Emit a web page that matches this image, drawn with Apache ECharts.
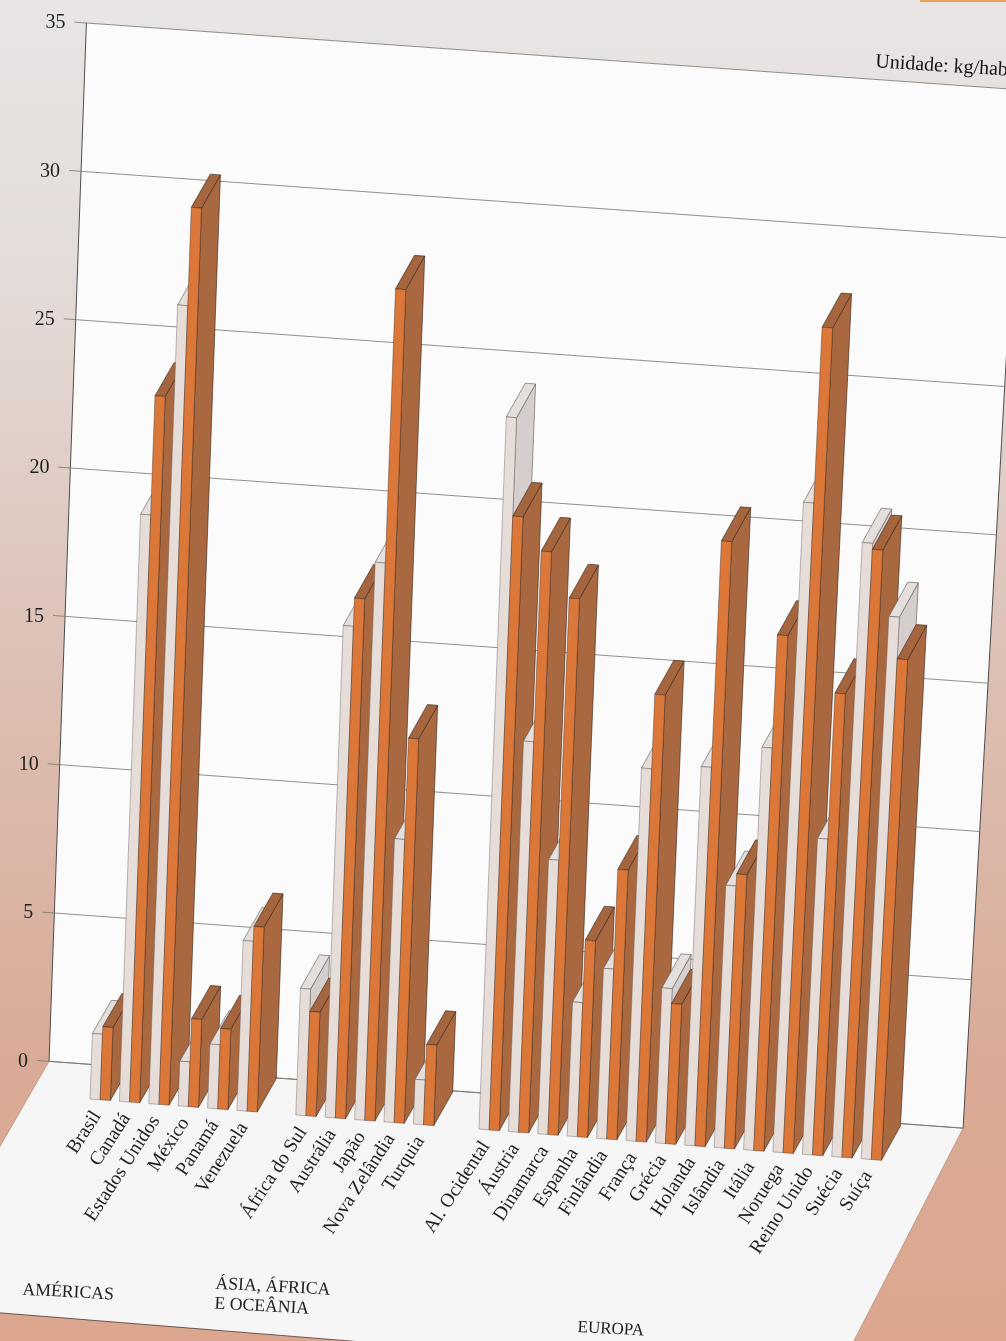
<!DOCTYPE html>
<html>
<head>
<meta charset="utf-8">
<style>html,body{margin:0;padding:0;background:#e5e0dd}#c{width:1006px;height:1341px}</style>
<script src="https://cdn.jsdelivr.net/npm/echarts@6/dist/echarts.min.js"></script>
</head>
<body>
<div id="c"></div>
<script>
const americas = ['Brasil','Canadá','Estados Unidos','México','Panamá','Venezuela'];
const asiaAfricaOceania = ['África do Sul','Austrália','Japão','Nova Zelândia','Turquia'];
const europa = ['Al. Ocidental','Áustria','Dinamarca','Espanha','Finlândia','França','Grécia','Holanda','Islândia','Itália','Noruega','Reino Unido','Suécia','Suíça'];
const lightValues = [2.2,19.7,26.8,1.5,2.15,5.7, 4.25,16.5,18.7,9.5,1.5, 23.9,13.1,9.2,4.5,5.7,12.5,5.2,12.7,8.8,13.5,21.8,10.6,20.6,18.2];
const orangeValues = [2.45,23.7,30.1,2.95,2.7,6.2, 3.5,17.45,27.9,12.9,2.7, 20.6,19.5,18,6.6,9.05,15,4.7,20.3,9.2,17.3,27.7,15.5,20.4,16.8];
const yTicks = [0,5,10,15,20,25,30,35];
const groupTitles = ['AMÉRICAS','ÁSIA, ÁFRICA\nE OCEÂNIA','EUROPA'];
const unitLabel = 'Unidade: kg/hab';

const categories = americas.concat(asiaAfricaOceania, europa);
const FONT = '"Liberation Serif", serif';
const slotOf = i => i < americas.length ? i
  : i < americas.length + asiaAfricaOceania.length ? i + 1 : i + 2.23;
const WALL_L = -2.04, WALL_R = 29.05, BAR = 0.345;
const WALL_SCALE = 0.9955;

function project(api, slot, value, depth, wall) {
  const c = api.coord([slot, value]), b = api.coord([slot, 0]);
  const h = b[1] - c[1], t = (slot + 2) / 31;
  return [
    b[0] + (0.036 + 0.020 * t * t * t) * h + depth * 19,
    c[1] + 0.0775 * (b[0] - 90) - depth * (33 + (wall ? 4 : 1.5) * t)
  ];
}
function poly(points, fill, stroke, z2, lw) {
  return { type: 'polygon', silent: true, z2, shape: { points },
    style: { fill, stroke: stroke || 'none', lineWidth: lw == null ? 0.6 : lw } };
}
function line(a, b, stroke, z2, lw) {
  return { type: 'line', silent: true, z2, shape: { x1: a[0], y1: a[1], x2: b[0], y2: b[1] },
    style: { stroke, lineWidth: lw || 0.8 } };
}
function barItem(colors, offset, order) {
  return function (params, api) {
    const s = api.value(0) + offset, v = api.value(1), i = params.dataIndex;
    const z = 20 + i * 4 + order;
    const p = (sl, val, d) => project(api, sl, val, d);
    const s2 = s + BAR;
    const fl0 = p(s, 0, 0), fr0 = p(s2, 0, 0), fl1 = p(s, v, 0), fr1 = p(s2, v, 0);
    const br0 = p(s2, 0, 1), br1 = p(s2, v, 1), bl1 = p(s, v, 1);
    return { type: 'group', children: [
      poly([fr0, br0, br1, fr1], colors.side, colors.edge, z),
      poly([fl1, fr1, br1, bl1], colors.top, colors.edge, z + 1),
      poly([fl0, fr0, fr1, fl1], colors.front, colors.edge, z + 2, 0.4)
    ] };
  };
}
const lightColors = { front: '#e6dcd8', side: '#d5cecc', top: '#e4dfdc', edge: '#5a5552' };
const orangeColors = { front: '#dc773a', side: '#a9683f', top: '#a5653f', edge: '#33231a' };

const option = {
  animation: false,
  backgroundColor: { type: 'linear', x: 0, y: 0, x2: 0, y2: 1, colorStops: [
    { offset: 0, color: '#e8e5e4' }, { offset: 0.2, color: '#e4dcd9' },
    { offset: 0.5, color: '#dcc0b4' }, { offset: 0.8, color: '#d9aa96' }, { offset: 1, color: '#dca78e' }
  ] },
  grid: { left: 90, top: 56, width: 852.6, height: 1043, containLabel: false },
  xAxis: { type: 'value', min: 0, max: 29, show: false },
  yAxis: { type: 'value', min: 0, max: 35, interval: 5, show: false },
  graphic: [
    { type: 'rect', z: 100, silent: true, shape: { x: 920, y: 0, width: 86, height: 2 }, style: { fill: '#e5a35a' } },
    { type: 'text', z: 100, silent: true, x: 876, y: 52, rotation: -3.6 * Math.PI / 180,
      style: { text: unitLabel, fill: '#111', font: '20px ' + FONT } },
    { type: 'text', z: 100, silent: true, x: 23, y: 1281, rotation: -3 * Math.PI / 180,
      style: { text: groupTitles[0], fill: '#222', font: '17.7px ' + FONT } },
    { type: 'text', z: 100, silent: true, x: 216, y: 1274, rotation: -3 * Math.PI / 180,
      style: { text: groupTitles[1], fill: '#222', font: '17.7px ' + FONT, lineHeight: 20 } },
    { type: 'text', z: 100, silent: true, x: 578, y: 1319, rotation: -3 * Math.PI / 180,
      style: { text: groupTitles[2], fill: '#222', font: '17px ' + FONT } }
  ],
  series: [
    { type: 'custom', name: 'Piso e parede', coordinateSystem: 'cartesian2d', clip: false, silent: true,
      data: [[0, 0]], encode: { x: 0, y: 1 },
      renderItem: function (params, api) {
        const bl = project(api, WALL_L, 0, 1, true), br = project(api, WALL_R, 0, 1, true);
        const tl = project(api, WALL_L, 35 * WALL_SCALE, 1, true), tr = project(api, WALL_R, 35 * WALL_SCALE, 1, true);
        const fl = project(api, WALL_L, 0, -6.4, true), fr = project(api, WALL_R, 0, -5.8, true);
        return { type: 'group', children: [
          poly([bl, br, fr, fl], '#f7f6f6', null, 1),
          poly([bl, br, tr, tl], '#fcfbfb', null, 2),
          line(bl, tl, '#3c3c3c', 3, 0.9),
          line(br, tr, '#3c3c3c', 3, 0.9),
          line(bl, br, '#6b6b6b', 3, 0.8),
          line(bl, fl, '#b58a78', 3, 0.7),
          line(br, fr, '#b58a78', 3, 0.7),
          line(fl, fr, '#4a3a34', 3, 0.8)
        ] };
      } },
    { type: 'custom', name: 'Linhas de grade', coordinateSystem: 'cartesian2d', clip: false, silent: true,
      data: yTicks.map(t => [0, t]), encode: { x: 0, y: 1 },
      renderItem: function (params, api) {
        const v = api.value(1), w = v * WALL_SCALE;
        const a = project(api, WALL_L, w, 1, true), b = project(api, WALL_R, w, 1, true);
        const tick = [a[0] - 12, a[1] - 0.9];
        return { type: 'group', children: [
          line(tick, b, '#77746f', 4, 0.8),
          { type: 'text', silent: true, z2: 5, x: a[0] - 21, y: a[1],
            style: { text: String(v), align: 'right', verticalAlign: 'middle', fill: '#1f1f1f', font: '20px ' + FONT } }
        ] };
      } },
    { type: 'custom', name: 'Série clara', coordinateSystem: 'cartesian2d', clip: false, silent: true,
      data: lightValues.map((v, i) => [slotOf(i), v]), encode: { x: 0, y: 1 },
      renderItem: barItem(lightColors, 0, 0) },
    { type: 'custom', name: 'Série laranja', coordinateSystem: 'cartesian2d', clip: false, silent: true,
      data: orangeValues.map((v, i) => [slotOf(i), v]), encode: { x: 0, y: 1 },
      renderItem: barItem(orangeColors, BAR, 3) },
    { type: 'custom', name: 'Categorias', coordinateSystem: 'cartesian2d', clip: false, silent: true,
      data: categories.map((c, i) => [slotOf(i), 0]), encode: { x: 0, y: 1 },
      renderItem: function (params, api) {
        const p = project(api, api.value(0), 0, 0);
        return { type: 'text', silent: true, z2: 200, x: p[0] + 7, y: p[1] + 14,
          rotation: 57 * Math.PI / 180,
          style: { text: categories[params.dataIndex], align: 'right', verticalAlign: 'middle',
            fill: '#1f1f1f', font: '19.5px ' + FONT } };
      } }
  ]
};
echarts.init(document.getElementById('c'), null, { renderer: 'canvas' }).setOption(option);
</script>
</body>
</html>
